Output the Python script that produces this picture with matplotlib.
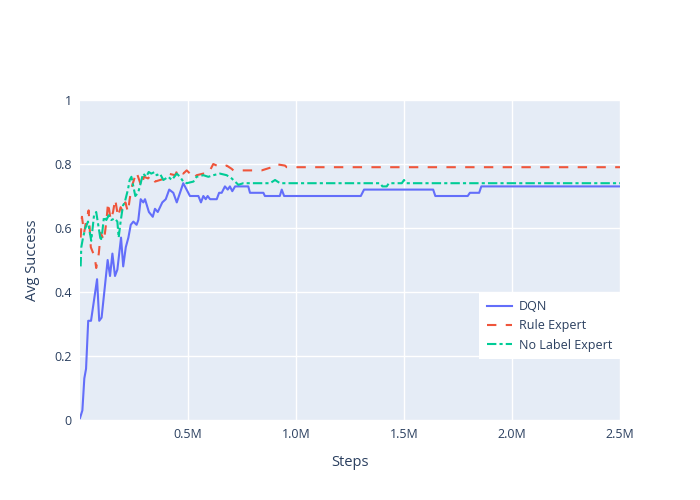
import matplotlib
matplotlib.use("Agg")
import matplotlib.pyplot as plt
from matplotlib.ticker import FuncFormatter

# steps (in millions) and avg success
dqn_steps = [0, 0.011, 0.020, 0.028, 0.038, 0.051, 0.079, 0.089, 0.100, 0.128, 0.139, 0.150,
             0.162, 0.173, 0.190, 0.200, 0.212, 0.224, 0.235, 0.247, 0.262, 0.270, 0.281, 0.293,
             0.301, 0.319, 0.337, 0.347, 0.360, 0.381, 0.397, 0.413, 0.432, 0.448, 0.478, 0.509,
             0.548, 0.560, 0.571, 0.582, 0.591, 0.602, 0.633, 0.644, 0.656, 0.671, 0.684, 0.694,
             0.705, 0.718, 0.749, 0.779, 0.787, 0.849, 0.856, 0.903, 0.925, 0.934, 0.945, 1.300,
             1.315, 1.635, 1.645, 1.795, 1.805, 1.848, 1.858, 2.5]
dqn_vals = [0.006, 0.03, 0.13, 0.16, 0.31, 0.31, 0.44, 0.31, 0.32, 0.50, 0.45, 0.52,
            0.45, 0.47, 0.57, 0.48, 0.54, 0.57, 0.61, 0.62, 0.61, 0.625, 0.69, 0.68,
            0.69, 0.65, 0.635, 0.66, 0.65, 0.68, 0.69, 0.72, 0.71, 0.68, 0.74, 0.70,
            0.70, 0.68, 0.70, 0.69, 0.70, 0.69, 0.69, 0.71, 0.71, 0.73, 0.72, 0.73,
            0.715, 0.73, 0.73, 0.73, 0.71, 0.71, 0.70, 0.70, 0.70, 0.72, 0.70, 0.70,
            0.72, 0.72, 0.70, 0.70, 0.71, 0.71, 0.73, 0.73]

rule_steps = [0.003, 0.009, 0.019, 0.029, 0.040, 0.050, 0.068, 0.075, 0.087, 0.096, 0.111, 0.122,
              0.130, 0.142, 0.153, 0.163, 0.176, 0.188, 0.199, 0.210, 0.222, 0.230, 0.238, 0.261,
              0.269, 0.284, 0.296, 0.315, 0.330, 0.347, 0.394, 0.409, 0.440, 0.455, 0.478, 0.494,
              0.517, 0.525, 0.540, 0.571, 0.594, 0.617, 0.633, 0.656, 0.679, 0.702, 0.710, 0.841,
              0.888, 0.903, 0.949, 0.957, 2.5]
rule_vals = [0.57, 0.635, 0.585, 0.625, 0.655, 0.54, 0.51, 0.475, 0.52, 0.585, 0.56, 0.62,
             0.68, 0.625, 0.65, 0.69, 0.635, 0.665, 0.65, 0.68, 0.65, 0.69, 0.725, 0.775,
             0.76, 0.73, 0.76, 0.755, 0.765, 0.745, 0.755, 0.77, 0.765, 0.785, 0.77, 0.78,
             0.765, 0.755, 0.765, 0.77, 0.77, 0.80, 0.795, 0.79, 0.795, 0.785, 0.78, 0.78,
             0.79, 0.80, 0.795, 0.79, 0.79]

nolabel_steps = [0.003, 0.006, 0.014, 0.025, 0.037, 0.052, 0.065, 0.075, 0.096, 0.102, 0.111, 0.122,
                 0.133, 0.145, 0.161, 0.173, 0.179, 0.188, 0.199, 0.207, 0.222, 0.230, 0.238, 0.256,
                 0.269, 0.281, 0.292, 0.307, 0.318, 0.330, 0.346, 0.355, 0.370, 0.386, 0.409, 0.425,
                 0.448, 0.463, 0.478, 0.494, 0.525, 0.540, 0.571, 0.594, 0.617, 0.648, 0.679, 0.702,
                 0.718, 0.733, 0.756, 0.802, 0.880, 0.903, 0.926, 1.390, 1.400, 1.420, 1.430, 1.490,
                 1.500, 1.510, 2.5]
nolabel_vals = [0.48, 0.54, 0.57, 0.60, 0.62, 0.56, 0.64, 0.65, 0.56, 0.58, 0.635, 0.625,
                0.64, 0.625, 0.63, 0.62, 0.57, 0.62, 0.67, 0.68, 0.72, 0.75, 0.76, 0.70,
                0.71, 0.74, 0.77, 0.76, 0.775, 0.77, 0.775, 0.765, 0.77, 0.75, 0.76, 0.75,
                0.77, 0.76, 0.745, 0.74, 0.745, 0.76, 0.765, 0.76, 0.765, 0.77, 0.765, 0.755,
                0.745, 0.735, 0.74, 0.74, 0.74, 0.75, 0.74, 0.74, 0.73, 0.73, 0.74, 0.74,
                0.75, 0.74, 0.74]

x_ticks = [0.5, 1.0, 1.5, 2.0, 2.5]
y_ticks = [0, 0.2, 0.4, 0.6, 0.8, 1]

plt.rcParams['font.family'] = ['Open Sans', 'DejaVu Sans']
text_col = '#2a3f5f'

fig = plt.figure(figsize=(7, 5), dpi=100)
ax = fig.add_axes([80 / 700, 80 / 500, 540 / 700, 320 / 500])
ax.set_facecolor('#E5ECF6')

lw = 1.5
ax.plot([s * 1e6 for s in dqn_steps], dqn_vals, color='#636EFA', lw=lw, label='DQN')
ax.plot([s * 1e6 for s in rule_steps], rule_vals, color='#EF553B', lw=lw,
        dashes=(4.5, 4.5), label='Rule Expert')
ax.plot([s * 1e6 for s in nolabel_steps], nolabel_vals, color='#00CC96', lw=lw,
        dashes=(4.5, 1.5, 1.5, 1.5), label='No Label Expert')

ax.set_xlim(0, 2.5e6)
ax.set_ylim(0, 1)
ax.set_xticks([t * 1e6 for t in x_ticks])
ax.xaxis.set_major_formatter(FuncFormatter(lambda v, p: f"{v / 1e6:.1f}M"))
ax.set_yticks(y_ticks)
ax.yaxis.set_major_formatter(FuncFormatter(lambda v, p: f"{v:g}"))
ax.grid(True, color='white', lw=1)
ax.set_axisbelow(True)
for s in ax.spines.values():
    s.set_visible(False)
ax.tick_params(length=0, labelsize=9, colors=text_col, pad=6)

ax.set_xlabel('Steps', fontsize=10.5, color=text_col, labelpad=10)
ax.set_ylabel('Avg Success', fontsize=10.5, color=text_col, labelpad=10)

leg = ax.legend(loc='lower right', bbox_to_anchor=(1.0, 0.19), fontsize=9,
                frameon=True, fancybox=False, framealpha=1, edgecolor='none',
                facecolor='white', handlelength=2.0, handletextpad=0.6,
                borderpad=0.6, labelspacing=0.5, borderaxespad=0)
for t in leg.get_texts():
    t.set_color(text_col)

fig.savefig('out.png', dpi=100)
